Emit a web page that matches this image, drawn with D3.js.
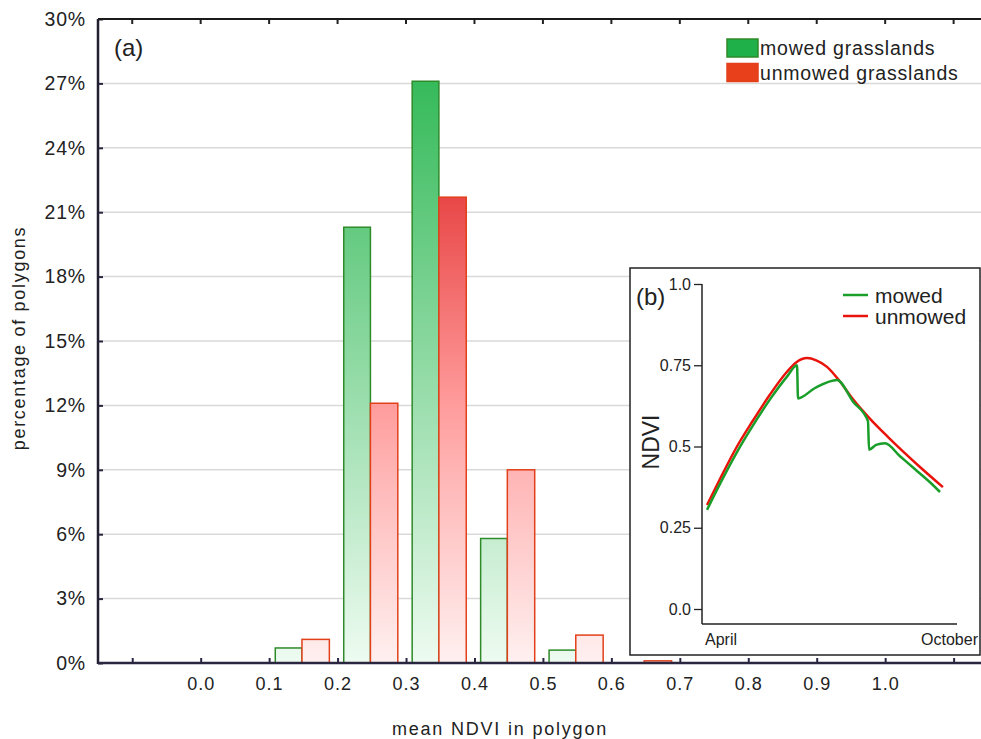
<!DOCTYPE html>
<html>
<head>
<meta charset="utf-8">
<script src="https://cdn.jsdelivr.net/npm/d3@7"></script>
<style>
  body { margin: 0; background: #fff; }
  text { font-family: "Liberation Sans", Arial, sans-serif; fill: #222; }
</style>
</head>
<body>
<div id="chart"></div>
<script>
// histogram bins (lower edge of each NDVI class)
var binStart = [-0.1, 0.0, 0.1, 0.2, 0.3, 0.4, 0.5, 0.6, 0.7, 0.8, 0.9, 1.0];
var mowed    = [0, 0, 0.7, 20.3, 27.1, 5.8, 0.6, 0, 0, 0, 0, 0];
var unmowed  = [0, 0, 1.1, 12.1, 21.7, 9.0, 1.3, 0.1, 0, 0, 0, 0];
var xTicks = [-0.1, 0.0, 0.1, 0.2, 0.3, 0.4, 0.5, 0.6, 0.7, 0.8, 0.9, 1.0, 1.1];
var yTicks = [0, 3, 6, 9, 12, 15, 18, 21, 24, 27, 30];

// inset (b): NDVI profiles, day = days after 1 April
var unmowedDay  = [3.6, 12.9, 25.1, 36.6, 48.8, 61.0, 68.0, 75.3, 82.0, 89.7, 99.0, 108.4, 120.6, 132.8, 144.2, 156.4, 172.9];
var unmowedNdvi = [0.32, 0.40, 0.50, 0.58, 0.66, 0.73, 0.76, 0.772, 0.765, 0.745, 0.70, 0.645, 0.585, 0.532, 0.485, 0.437, 0.375];
var mowedDay  = [3.6, 12.9, 25.1, 36.6, 48.8, 61.0, 68.2, 68.9, 81.1, 96.9, 108.4, 119.1, 119.9, 124.9, 131.3, 142.1, 152.9, 163.6, 170.8];
var mowedNdvi = [0.305, 0.385, 0.483, 0.565, 0.645, 0.715, 0.75, 0.648, 0.68, 0.705, 0.638, 0.578, 0.49, 0.505, 0.51, 0.47, 0.43, 0.39, 0.36];
var insetTicks = [0, 0.25, 0.5, 0.75, 1.0];

var w = 981, h = 739;
var svg = d3.select("#chart").append("svg")
    .attr("width", w)
    .attr("height", h);

// plot edges (don't call it "top", window.top is taken)
var pLeft = 98, pTop = 19, pBottom = 663, pRight = 981;

var x = d3.scaleLinear().domain([-0.15, 1.14]).range([pLeft, pRight]);
var y = d3.scaleLinear().domain([0, 30]).range([pBottom, pTop]);

// gradients fade to white at 0%
var defs = svg.append("defs");
function grad(id, stops) {
    var g = defs.append("linearGradient")
        .attr("id", id)
        .attr("gradientUnits", "userSpaceOnUse")
        .attr("x1", 0).attr("x2", 0)
        .attr("y1", y(0)).attr("y2", y(30));
    stops.forEach(function(s) {
        g.append("stop").attr("offset", s[0]).attr("stop-color", s[1]);
    });
}
grad("gGreen", [[0, "#eefbf1"], [1, "#22b34a"]]);
grad("gRed", [[0, "#fff0f0"], [0.3, "#ffb4b4"], [0.4, "#ff9c9c"], [0.72, "#e94848"], [1, "#d82020"]]);

// grid lines
svg.append("g").selectAll("line")
    .data(yTicks.slice(1, -1))
    .enter().append("line")
    .attr("x1", pLeft).attr("x2", pRight)
    .attr("y1", function(d) { return y(d); })
    .attr("y2", function(d) { return y(d); })
    .attr("stroke", "#d9d9d9")
    .attr("stroke-width", 1.5);

// bars
var bins = binStart.map(function(b, i) {
    return { lo: b, mowed: mowed[i], unmowed: unmowed[i] };
});

svg.append("g").selectAll("rect")
    .data(bins.filter(function(d) { return d.mowed > 0; }))
    .enter().append("rect")
    .attr("x", function(d) { return x(d.lo + 0.009); })
    .attr("width", function(d) { return x(d.lo + 0.048) - x(d.lo + 0.009); })
    .attr("y", function(d) { return y(d.mowed); })
    .attr("height", function(d) { return y(0) - y(d.mowed); })
    .attr("fill", "url(#gGreen)")
    .attr("stroke", "#2f8a2a")
    .attr("stroke-width", 1.5);

svg.append("g").selectAll("rect")
    .data(bins.filter(function(d) { return d.unmowed > 0; }))
    .enter().append("rect")
    .attr("x", function(d) { return x(d.lo + 0.048); })
    .attr("width", function(d) { return x(d.lo + 0.088) - x(d.lo + 0.048); })
    .attr("y", function(d) { return y(d.unmowed); })
    .attr("height", function(d) { return y(0) - y(d.unmowed); })
    .attr("fill", "url(#gRed)")
    .attr("stroke", "#e2401a")
    .attr("stroke-width", 1.5);

// axes
var yaxis = d3.axisLeft(y).tickValues(yTicks).tickSize(-5).tickPadding(12)
    .tickFormat(function(d) { return d + "%"; });
var gy = svg.append("g").attr("transform", "translate(" + pLeft + ",0)").call(yaxis);
gy.select(".domain").remove();
gy.selectAll("text").style("font-size", "19.5px").style("letter-spacing", "0.8px").attr("x", -12);
gy.selectAll(".tick line").attr("stroke", "#2a2640").attr("stroke-width", 2);

var xaxis = d3.axisBottom(x).tickValues(xTicks).tickSize(-5).tickPadding(14)
    .tickFormat(function(d) { return (d < 0 || d > 1.05) ? "" : d3.format(".1f")(d); });
var gx = svg.append("g").attr("transform", "translate(0," + pBottom + ")").call(xaxis);
gx.select(".domain").remove();
gx.selectAll("text").style("font-size", "18px").style("letter-spacing", "1px");
gx.selectAll(".tick line").attr("stroke", "#2a2640").attr("stroke-width", 2);

// top ticks
svg.append("g").selectAll("line")
    .data(xTicks)
    .enter().append("line")
    .attr("x1", function(d) { return x(d); })
    .attr("x2", function(d) { return x(d); })
    .attr("y1", pTop).attr("y2", pTop + 5)
    .attr("stroke", "#222").attr("stroke-width", 2);

// frame lines
svg.append("line").attr("x1", pLeft).attr("x2", pRight).attr("y1", pTop).attr("y2", pTop)
    .attr("stroke", "#1a1a1a").attr("stroke-width", 2);
svg.append("line").attr("x1", pLeft).attr("x2", pLeft).attr("y1", pTop).attr("y2", pBottom + 1)
    .attr("stroke", "#221f33").attr("stroke-width", 2.5);
svg.append("line").attr("x1", pLeft).attr("x2", pRight).attr("y1", pBottom).attr("y2", pBottom)
    .attr("stroke", "#2a2640").attr("stroke-width", 2.5);

// titles
svg.append("text").attr("x", 500).attr("y", 735)
    .attr("text-anchor", "middle")
    .style("font-size", "18px").style("letter-spacing", "1.8px")
    .text("mean NDVI in polygon");
svg.append("text")
    .attr("transform", "translate(25,338) rotate(-90)")
    .attr("text-anchor", "middle")
    .style("font-size", "18px").style("letter-spacing", "1.7px")
    .text("percentage of polygons");
svg.append("text").attr("x", 114).attr("y", 56)
    .style("font-size", "24px")
    .text("(a)");

// legend
var legend = [["mowed grasslands", "#1fb04a", "#2f8a2a"], ["unmowed grasslands", "#e8401a", "#e2401a"]];
var lg = svg.append("g").selectAll("g")
    .data(legend)
    .enter().append("g")
    .attr("transform", function(d, i) { return "translate(727," + (39 + i * 24.5) + ")"; });
lg.append("rect").attr("width", 31).attr("height", 18)
    .attr("fill", function(d) { return d[1]; })
    .attr("stroke", function(d) { return d[2]; })
    .attr("stroke-width", 1.5);
lg.append("text").attr("x", 33).attr("y", 16)
    .style("font-size", "19.5px").style("letter-spacing", "0.8px")
    .text(function(d) { return d[0]; });

// ---- inset (b) ----
var inset = svg.append("g");
inset.append("rect")
    .attr("x", 630).attr("y", 268)
    .attr("width", 350).attr("height", 387)
    .attr("fill", "#fff")
    .attr("stroke", "#222").attr("stroke-width", 1.5);

var ix = d3.scaleLinear().domain([0, 183]).range([702, 957]);
var iy = d3.scaleLinear().domain([0, 1]).range([609, 284]);

var iyaxis = d3.axisLeft(iy).tickValues(insetTicks).tickSize(8).tickPadding(3)
    .tickFormat(function(d) { return d == 0.5 ? "0.5" : d == 0 ? "0.0" : d == 1 ? "1.0" : d; });
var giy = inset.append("g").attr("transform", "translate(702,0)").call(iyaxis);
giy.select(".domain").remove();
giy.selectAll("text").style("font-size", "16px");
giy.selectAll(".tick line").attr("stroke", "#222").attr("stroke-width", 1.3);

inset.append("line").attr("x1", 702).attr("x2", 702).attr("y1", 284).attr("y2", 624)
    .attr("stroke", "#222").attr("stroke-width", 1.5);
inset.append("line").attr("x1", 702).attr("x2", 957).attr("y1", 624).attr("y2", 624)
    .attr("stroke", "#222").attr("stroke-width", 1.5);

inset.append("text").attr("x", 705).attr("y", 645).style("font-size", "16px").text("April");
inset.append("text").attr("x", 978).attr("y", 645).attr("text-anchor", "end")
    .style("font-size", "16px").text("October");
inset.append("text")
    .attr("transform", "translate(659,442) rotate(-90)")
    .attr("text-anchor", "middle")
    .style("font-size", "23px")
    .text("NDVI");
inset.append("text").attr("x", 636).attr("y", 305).style("font-size", "24px").text("(b)");

var line = d3.line()
    .x(function(d) { return ix(d[0]); })
    .y(function(d) { return iy(d[1]); })
    .curve(d3.curveMonotoneX);

inset.append("path")
    .datum(d3.zip(unmowedDay, unmowedNdvi))
    .attr("d", line)
    .attr("fill", "none")
    .attr("stroke", "#e8140c")
    .attr("stroke-width", 2.5);
inset.append("path")
    .datum(d3.zip(mowedDay, mowedNdvi))
    .attr("d", line)
    .attr("fill", "none")
    .attr("stroke", "#1a9e2a")
    .attr("stroke-width", 2.5);

var ileg = [["mowed", "#1a9e2a"], ["unmowed", "#e8140c"]];
var il = inset.append("g").selectAll("g")
    .data(ileg)
    .enter().append("g")
    .attr("transform", function(d, i) { return "translate(843," + (295 + i * 21) + ")"; });
il.append("line").attr("x1", 0).attr("x2", 25)
    .attr("stroke", function(d) { return d[1]; })
    .attr("stroke-width", 2.5);
il.append("text").attr("x", 32).attr("y", 8)
    .style("font-size", "21px")
    .text(function(d) { return d[0]; });
</script>
</body>
</html>
